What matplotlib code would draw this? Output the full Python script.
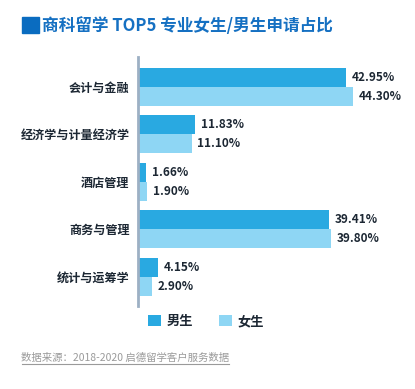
import matplotlib
matplotlib.use("Agg")
import matplotlib.pyplot as plt
from matplotlib.patches import Rectangle
from matplotlib.lines import Line2D
import numpy as np

plt.rcParams["font.family"] = ["Noto Sans CJK SC", "DejaVu Sans"]

# ---------------------------------------------------------------------------
# Data
# ---------------------------------------------------------------------------
categories = ["会计与金融", "经济学与计量经济学", "酒店管理", "商务与管理", "统计与运筹学"]
male = [42.95, 11.83, 1.66, 39.41, 4.15]
female = [44.30, 11.10, 1.90, 39.80, 2.90]
series_names = ["男生", "女生"]

MALE_C = "#29a9e1"
FEMALE_C = "#8ed6f4"
TEXT_C = "#1c2733"

W, H = 415, 389
fig = plt.figure(figsize=(W / 100, H / 100), dpi=100, facecolor="white")
ax = fig.add_axes([138 / W, 83 / H, 262 / W, 249 / H])

y = np.arange(len(categories))
bh = 0.4
ax.barh(y - bh / 2, male, height=bh, color=MALE_C, label=series_names[0])
ax.barh(y + bh / 2, female, height=bh, color=FEMALE_C, label=series_names[1])

for yi, v in zip(y, male):
    ax.annotate(f"{v:.2f}%", (v, yi - bh / 2), xytext=(4, 0), textcoords="offset points",
                va="center", ha="left", fontsize=8.5, fontweight="bold", color=TEXT_C)
for yi, v in zip(y, female):
    ax.annotate(f"{v:.2f}%", (v, yi + bh / 2), xytext=(4, 0), textcoords="offset points",
                va="center", ha="left", fontsize=8.5, fontweight="bold", color=TEXT_C)

ax.set_xlim(0, 54)
ax.set_ylim(4.62, -0.633)
ax.set_yticks(y)
ax.set_yticklabels(categories, fontsize=8.7, fontweight="bold", color=TEXT_C)
ax.tick_params(axis="y", length=0, pad=6)
ax.set_xticks([])
for s in ["top", "right", "bottom"]:
    ax.spines[s].set_visible(False)
ax.spines["left"].set_color("#9db0c4")
ax.spines["left"].set_linewidth(2)

# Title with blue square marker
fig.add_artist(Rectangle((22 / W, 1 - 33 / H), 17 / W, 16 / H,
                         transform=fig.transFigure, color="#0a6cc0"))
fig.text(42 / W, 1 - 26 / H, "商科留学 TOP5 专业女生/男生申请占比",
         fontsize=12, fontweight="bold", color="#1570c2", va="center", ha="left")

# Legend
ax.legend(loc="center", bbox_to_anchor=(206 / W, 1 - 321 / H), bbox_transform=fig.transFigure,
          ncol=2, frameon=False, handlelength=1.0, handleheight=1.0, columnspacing=2.0,
          handletextpad=0.4, prop={"size": 9.5, "weight": "bold"})
for t in ax.get_legend().get_texts():
    t.set_color(TEXT_C)

# Source note
fig.text(21 / W, 1 - 358 / H, "数据来源：2018-2020 启德留学客户服务数据",
         fontsize=7.5, style="italic", color="#9a9a9a", va="center", ha="left")
fig.add_artist(Line2D([22 / W, 229 / W], [1 - 364 / H, 1 - 364 / H],
                      transform=fig.transFigure, color="#9a9a9a", linewidth=0.8))

fig.savefig("out.png", dpi=100, facecolor="white")
